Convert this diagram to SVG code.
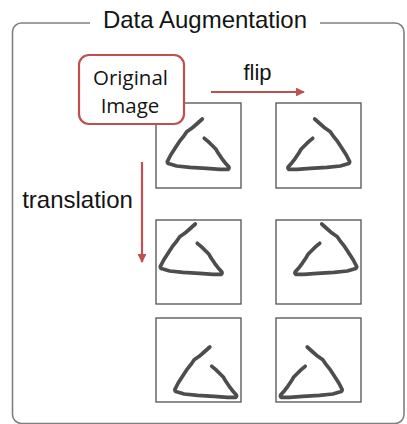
<svg xmlns="http://www.w3.org/2000/svg" xmlns:xlink="http://www.w3.org/1999/xlink" width="407" height="424" viewBox="0 0 407 424">
  <style>
    .frame { fill: none; stroke: #808080; stroke-width: 1.6; }
    .tile { fill: #ffffff; stroke: #505050; stroke-width: 1.3; }
    .stroke-shape { fill: none; stroke: #4d4d4d; stroke-width: 3.7; stroke-linecap: round; stroke-linejoin: round; }
    .label { font-family: "Liberation Sans", Arial, sans-serif; fill: #141414; }
    .node-label { font-family: "Open Sans", "Noto Sans", sans-serif; fill: #141414; font-size: 20.5px; }
    .arrow { stroke: #c0504d; stroke-width: 2.2; fill: none; }
  </style>
  <defs>
    <marker id="head" viewBox="0 0 10 10" refX="9" refY="5" markerWidth="4.4" markerHeight="4" orient="auto" markerUnits="strokeWidth">
      <path d="M0,0 L10,5 L0,10 Z" fill="#c0504d"/>
    </marker>
    <!-- hand-drawn triangle, in tile-local coordinates (tile is 85 x 85) -->
    <path id="tri" class="stroke-shape" d="M46.3,16 L40.7,21 L35.7,25.3 L30.7,28.7 L27.3,33.7 L23.3,38.7 L20,43.7 L14.7,52 L11.3,58.7 Q11.5,61 14,61 L20.7,63 L34,64.3 L50.7,65.3 L64,66.3 L72.3,66.3 Q73.5,65 72.7,63.7 L69,59.7 L65.7,55.3 L62.3,50.3 L60,46.3 L55.7,42 L52.3,38.7 L48.3,35.3"/>
  </defs>

  <!-- outer frame with title gap -->
  <g id="frame">
    <rect class="frame" x="12.5" y="23" width="391.5" height="400.5" rx="9"/>
    <rect x="90" y="10" width="230" height="22" fill="#ffffff"/>
    <text class="label" x="205" y="27.5" font-size="24" text-anchor="middle">Data Augmentation</text>
  </g>

  <!-- image tiles -->
  <g id="tile-original">
    <rect class="tile" x="156" y="103" width="85" height="85"/>
    <use xlink:href="#tri" transform="translate(156,103)"/>
  </g>
  <g id="tile-flip">
    <rect class="tile" x="276" y="103" width="85" height="85"/>
    <use xlink:href="#tri" transform="translate(361,103) scale(-1,1)"/>
  </g>
  <g id="tile-shift-1">
    <rect class="tile" x="156" y="220" width="85" height="84"/>
    <use xlink:href="#tri" transform="translate(149,208)"/>
  </g>
  <g id="tile-shift-1-flip">
    <rect class="tile" x="276" y="220" width="85" height="84"/>
    <use xlink:href="#tri" transform="translate(368,208) scale(-1,1)"/>
  </g>
  <g id="tile-shift-2">
    <rect class="tile" x="156" y="318" width="85" height="84"/>
    <use xlink:href="#tri" transform="translate(163.5,331)"/>
  </g>
  <g id="tile-shift-2-flip">
    <rect class="tile" x="276" y="318" width="85" height="84"/>
    <use xlink:href="#tri" transform="translate(353.5,331) scale(-1,1)"/>
  </g>

  <!-- source image label -->
  <g id="original-image">
    <rect x="79" y="55" width="105" height="69" rx="10" fill="#ffffff" stroke="#c0504d" stroke-width="2.2"/>
    <text class="node-label" x="130.5" y="84.5" text-anchor="middle">Original</text>
    <text class="node-label" x="130" y="112.5" text-anchor="middle">Image</text>
  </g>

  <!-- connectors -->
  <g id="connectors">
    <line class="arrow" x1="211" y1="92" x2="304" y2="92" marker-end="url(#head)"/>
    <line class="arrow" x1="142" y1="162" x2="142" y2="262" marker-end="url(#head)"/>
  </g>

  <g id="edge-labels">
    <text class="label" x="257.5" y="80" font-size="22" text-anchor="middle">flip</text>
    <text class="label" x="77.5" y="207.5" font-size="24" text-anchor="middle">translation</text>
  </g>
</svg>
